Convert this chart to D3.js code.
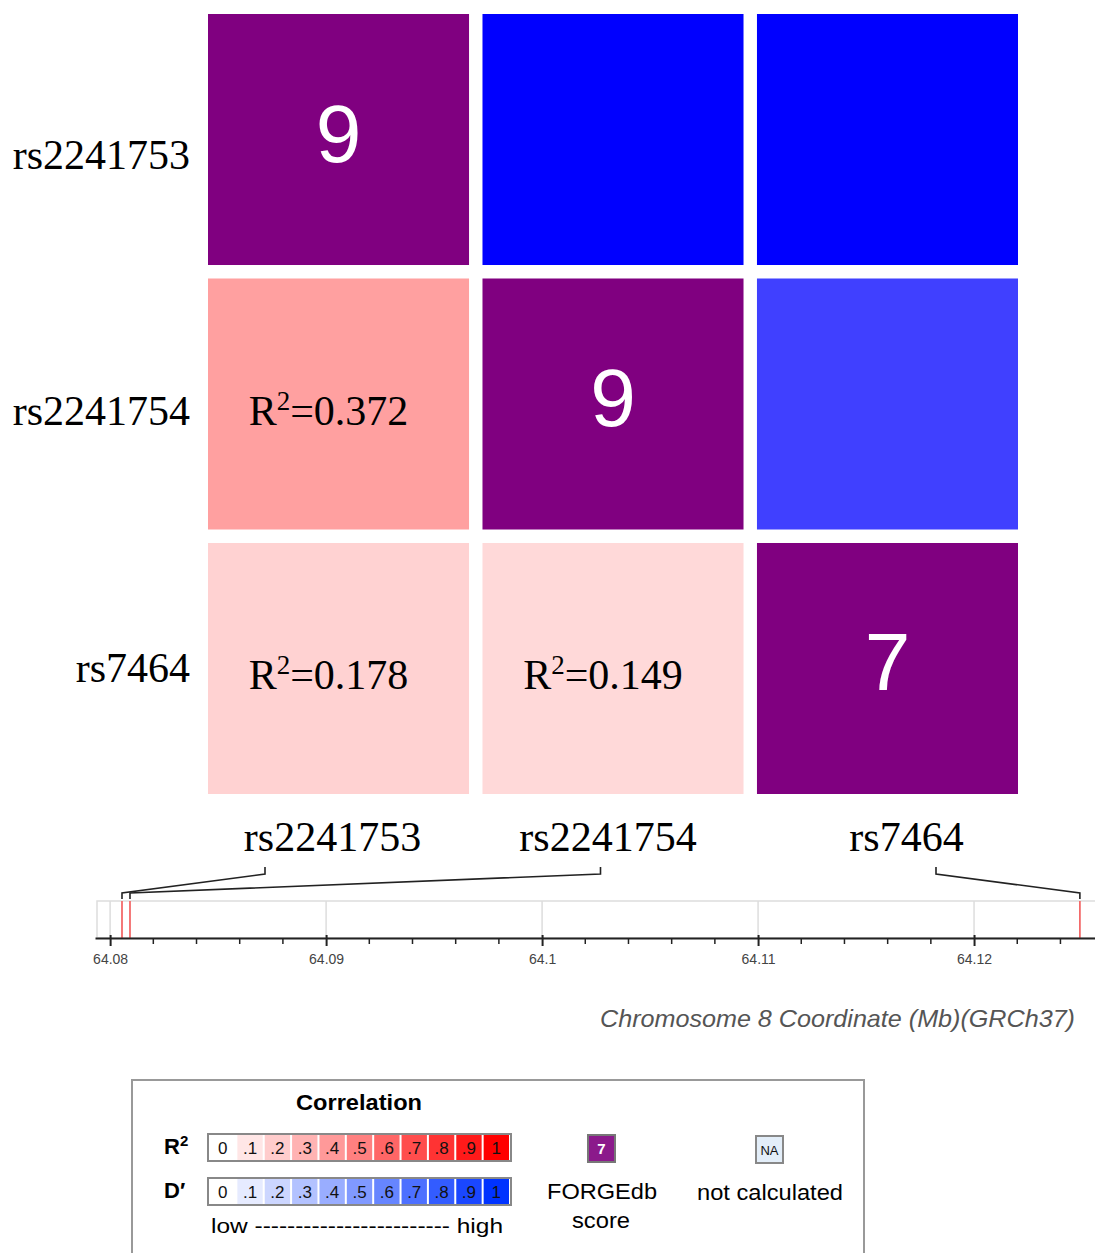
<!DOCTYPE html>
<html><head><meta charset="utf-8">
<script src="https://cdn.jsdelivr.net/npm/d3@7"></script>
<style>body{margin:0;background:#fff}svg{display:block}</style>
</head><body>
<svg id="chart" width="1095" height="1253"></svg>
<script>
// ---- data ----
const snps = ["rs2241753", "rs2241754", "rs7464"];
const positionsMb = [64.08055, 64.08092, 64.12490];
const forgedbScores = [9, 9, 7];
const r2Pairs = [ ["rs2241753","rs2241754",0.372], ["rs2241753","rs7464",0.178], ["rs2241754","rs7464",0.149] ];
const dPrimePairs = [ ["rs2241753","rs2241754",1.0], ["rs2241753","rs7464",1.0], ["rs2241754","rs7464",0.75] ];
const majorTicks = [64.08, 64.09, 64.1, 64.11, 64.12];
const minorTicks = [64.082,64.084,64.086,64.088,64.092,64.094,64.096,64.098,64.102,64.104,64.106,64.108,64.112,64.114,64.116,64.118,64.122,64.124];
const legendSteps = [0,0.1,0.2,0.3,0.4,0.5,0.6,0.7,0.8,0.9,1];
const legendLabels = ["0",".1",".2",".3",".4",".5",".6",".7",".8",".9","1"];
const axisTitle = "Chromosome 8 Coordinate (Mb)(GRCh37)";

const svg = d3.select("#chart");
const SERIF = "'Liberation Serif','Times New Roman',serif";
const SANS = "'Liberation Sans',Arial,sans-serif";

const x = d3.scaleBand().domain(snps).range([208, 1018]).paddingInner(0.049).paddingOuter(0);
const y = d3.scaleBand().domain(snps).range([14, 794]).paddingInner(0.051).paddingOuter(0);
const r2Color = d3.interpolateRgb("#ffffff", "#ff0000");
const dColor = d3.interpolateRgb("#ffffff", "#0000ff");

// cells
const cells = [];
snps.forEach((s, i) => cells.push({row: s, col: s, type: "score", v: forgedbScores[i]}));
r2Pairs.forEach(([a, b, v]) => cells.push({row: b, col: a, type: "r2", v}));
dPrimePairs.forEach(([a, b, v]) => cells.push({row: a, col: b, type: "d", v}));

const g = svg.append("g");
g.selectAll("rect.cell").data(cells).join("rect")
  .attr("class", "cell")
  .attr("x", d => x(d.col)).attr("y", d => y(d.row))
  .attr("width", x.bandwidth()).attr("height", y.bandwidth())
  .attr("fill", d => d.type === "score" ? "#800080" : d.type === "r2" ? r2Color(d.v) : dColor(d.v));

g.selectAll("text.score").data(cells.filter(d => d.type === "score")).join("text")
  .attr("class", "score")
  .attr("x", d => x(d.col) + x.bandwidth() / 2)
  .attr("y", d => y(d.row) + y.bandwidth() / 2 + 22)
  .attr("text-anchor", "middle")
  .attr("font-family", SANS).attr("font-size", 82).attr("fill", "#fff")
  .text(d => d.v);

const r2t = g.selectAll("text.r2").data(cells.filter(d => d.type === "r2")).join("text")
  .attr("class", "r2")
  .attr("x", d => x(d.col) + x.bandwidth() / 2 - 10)
  .attr("y", d => y(d.row) + y.bandwidth() / 2 + 21)
  .attr("text-anchor", "middle")
  .attr("font-family", SERIF).attr("font-size", 42).attr("fill", "#000");
r2t.append("tspan").text("R");
r2t.append("tspan").attr("font-size", 27).attr("dy", -15).text("2");
r2t.append("tspan").attr("dy", 15).text(d => "=" + d3.format(".3f")(d.v));

// row labels
g.selectAll("text.rowlab").data(snps).join("text")
  .attr("class", "rowlab")
  .attr("x", 190).attr("y", (d, i) => y(d) + y.bandwidth() / 2 + 14 + [15, 7, 0][i])
  .attr("text-anchor", "end")
  .attr("font-family", SERIF).attr("font-size", 42).attr("fill", "#000")
  .text(d => d);

// column labels
g.selectAll("text.collab").data(snps).join("text")
  .attr("class", "collab")
  .attr("x", (d, i) => x(d) + x.bandwidth() / 2 + [-6, -5, 19][i])
  .attr("y", 851)
  .attr("text-anchor", "middle")
  .attr("font-family", SERIF).attr("font-size", 42).attr("fill", "#000")
  .text(d => d);

// genomic track
const gx = d3.scaleLinear().domain([64.0793, 64.1256]).range([95, 1095]);
const anchor = d3.scalePoint().domain(snps).range([265, 936]);
const trackTop = 901, axisY = 938;

svg.append("rect").attr("x", 97).attr("y", trackTop).attr("width", 1010).attr("height", axisY - trackTop)
  .attr("fill", "#fff").attr("stroke", "#ddd").attr("stroke-width", 1.5);
svg.selectAll("line.grid").data(majorTicks).join("line").attr("class", "grid")
  .attr("x1", d => gx(d)).attr("x2", d => gx(d)).attr("y1", trackTop).attr("y2", axisY)
  .attr("stroke", "#ddd").attr("stroke-width", 1.5);
svg.selectAll("line.snp").data(positionsMb).join("line").attr("class", "snp")
  .attr("x1", d => gx(d)).attr("x2", d => gx(d)).attr("y1", trackTop).attr("y2", axisY)
  .attr("stroke", "#f36a6a").attr("stroke-width", 1.8);

// connectors
svg.selectAll("path.conn").data(snps).join("path").attr("class", "conn")
  .attr("d", (d, i) => d3.line()([[anchor(d), 867], [anchor(d), 874], [gx(positionsMb[i]), 893], [gx(positionsMb[i]), 899]]))
  .attr("fill", "none").attr("stroke", "#222").attr("stroke-width", 1.6);

// axis
const axisG = svg.append("g").attr("transform", `translate(0,${axisY})`);
axisG.call(d3.axisBottom(gx).tickValues(majorTicks).tickSize(8).tickSizeOuter(0).tickFormat(d3.format("")));
axisG.select(".domain").attr("stroke", "#222").attr("stroke-width", 2);
axisG.selectAll(".tick line").attr("stroke", "#222").attr("stroke-width", 2).attr("y1", -3);
axisG.selectAll(".tick text").attr("font-family", SANS).attr("font-size", 14).attr("fill", "#444").attr("dy", "1.05em");
axisG.selectAll("line.minor").data(minorTicks).join("line").attr("class", "minor")
  .attr("x1", d => gx(d)).attr("x2", d => gx(d)).attr("y1", 0).attr("y2", 6)
  .attr("stroke", "#222").attr("stroke-width", 1.5);

svg.append("text").attr("x", 1075).attr("y", 1027).attr("text-anchor", "end")
  .attr("font-family", SANS).attr("font-style", "italic").attr("font-size", 24).attr("fill", "#555")
  .attr("textLength", 475).attr("lengthAdjust", "spacingAndGlyphs")
  .text(axisTitle);

// legend
const lg = svg.append("g");
lg.append("rect").attr("x", 132).attr("y", 1080).attr("width", 732).attr("height", 220)
  .attr("fill", "#fff").attr("stroke", "#999").attr("stroke-width", 2);
lg.append("text").attr("x", 359).attr("y", 1110).attr("text-anchor", "middle")
  .attr("font-family", SANS).attr("font-weight", "bold").attr("font-size", 22)
  .attr("textLength", 126).attr("lengthAdjust", "spacingAndGlyphs").text("Correlation");

const lx = d3.scaleBand().domain(legendSteps).range([209, 510]);
const r2Leg = d3.interpolateRgb("#ffffff", "#ff0000");
const dLeg = d3.interpolateRgb("#ffffff", "#0033ff");
function legendBar(y0, interp, label, sup) {
  const t = lg.append("text").attr("x", 164).attr("y", y0 + 20)
    .attr("font-family", SANS).attr("font-weight", "bold").attr("font-size", 22);
  t.append("tspan").text(label);
  t.append("tspan").attr("font-size", 15).attr("dy", -8).text(sup);
  lg.append("g").selectAll("rect").data(legendSteps).join("rect")
    .attr("x", d => lx(d) + 1).attr("y", y0 + 1).attr("width", lx.bandwidth() - 2).attr("height", 25)
    .attr("fill", d => interp(d));
  lg.append("rect").attr("x", 208).attr("y", y0).attr("width", 303).attr("height", 27)
    .attr("fill", "none").attr("stroke", "#888").attr("stroke-width", 2);
  lg.append("g").selectAll("text").data(legendSteps).join("text")
    .attr("x", d => lx(d) + lx.bandwidth() / 2).attr("y", y0 + 20).attr("text-anchor", "middle")
    .attr("font-family", SANS).attr("font-size", 17).attr("fill", "#111")
    .text((d, i) => legendLabels[i]);
}
legendBar(1134, r2Leg, "R", "2");
legendBar(1178, dLeg, "D′", "");

lg.append("text").attr("x", 211).attr("y", 1233).attr("font-family", SANS).attr("font-size", 21)
  .attr("textLength", 292).attr("lengthAdjust", "spacingAndGlyphs")
  .text("low ------------------------ high");

lg.append("rect").attr("x", 588).attr("y", 1135).attr("width", 27).attr("height", 27)
  .attr("fill", "#8b1a8b").attr("stroke", "#777").attr("stroke-width", 2);
lg.append("text").attr("x", 601.5).attr("y", 1154).attr("text-anchor", "middle")
  .attr("font-family", SANS).attr("font-weight", "bold").attr("font-size", 15).attr("fill", "#fff").text("7");
lg.append("text").attr("x", 602).attr("y", 1199).attr("text-anchor", "middle")
  .attr("font-family", SANS).attr("font-size", 22)
  .attr("textLength", 110).attr("lengthAdjust", "spacingAndGlyphs").text("FORGEdb");
lg.append("text").attr("x", 601).attr("y", 1228).attr("text-anchor", "middle")
  .attr("font-family", SANS).attr("font-size", 22)
  .attr("textLength", 58).attr("lengthAdjust", "spacingAndGlyphs").text("score");

lg.append("rect").attr("x", 756).attr("y", 1136).attr("width", 27).attr("height", 27)
  .attr("fill", "#e3eef9").attr("stroke", "#888").attr("stroke-width", 2);
lg.append("text").attr("x", 769.5).attr("y", 1154.5).attr("text-anchor", "middle")
  .attr("font-family", SANS).attr("font-size", 13).attr("fill", "#111").text("NA");
lg.append("text").attr("x", 770).attr("y", 1200).attr("text-anchor", "middle")
  .attr("font-family", SANS).attr("font-size", 22)
  .attr("textLength", 146).attr("lengthAdjust", "spacingAndGlyphs").text("not calculated");
</script>
</body></html>
